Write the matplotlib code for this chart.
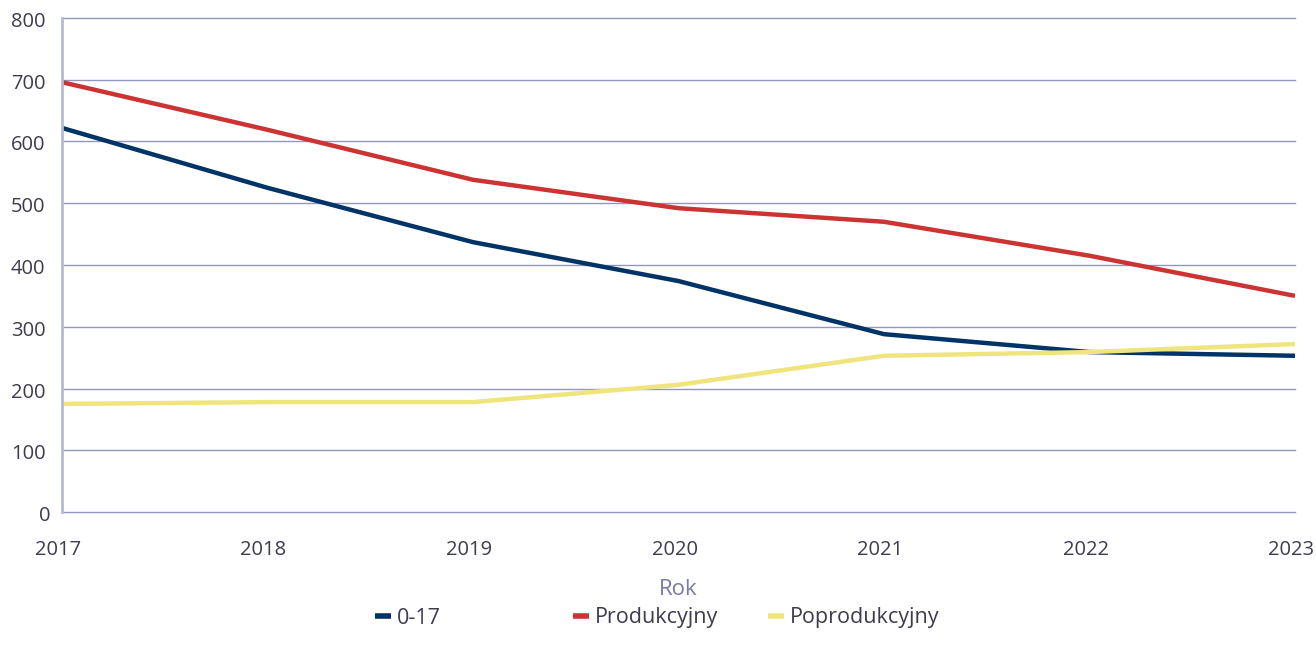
import matplotlib
matplotlib.use("Agg")
import matplotlib.pyplot as plt
from matplotlib.transforms import ScaledTranslation

years = [2017, 2018, 2019, 2020, 2021, 2022, 2023]
s_0_17 = [622, 525, 437, 374, 288, 259, 253]
s_prod = [696, 619, 538, 492, 470, 415, 350]
s_poprod = [175, 178, 178, 206, 253, 259, 272]
series_names = ["0-17", "Produkcyjny", "Poprodukcyjny"]
colors = ["#003366", "#cc3333", "#efe57c"]
yticks = [0, 100, 200, 300, 400, 500, 600, 700, 800]

plt.rcParams['font.family'] = ['Open Sans', 'DejaVu Sans']

W, H = 1316, 658
fig = plt.figure(figsize=(W/100, H/100), dpi=100)
ax = fig.add_axes([62/W, 1 - 512/H, (1295-62)/W, (512-18)/H])

lines = []
for vals, name, c in zip([s_0_17, s_prod, s_poprod], series_names, colors):
    ln, = ax.plot(years, vals, color=c, lw=3.2, label=name, solid_capstyle='butt')
    lines.append(ln)

ax.set_xlim(years[0], years[-1])
ax.set_ylim(0, 800)
ax.set_yticks(yticks)
ax.set_xticks(years)
ax.grid(axis='y', color='#9396bd', lw=1)
for gl in ax.get_ygridlines():
    gl.set_clip_on(False)
ax.set_axisbelow(True)
for s in ['top', 'right', 'bottom']:
    ax.spines[s].set_visible(False)
ax.spines['left'].set_color('#b7bad3')
ax.spines['left'].set_linewidth(2)
ax.tick_params(axis='both', length=0, labelsize=14.5, labelcolor='#3c3c4e')
ax.tick_params(axis='y', pad=12)
ax.tick_params(axis='x', pad=20)

dpi_tr = fig.dpi_scale_trans
for i, lbl in enumerate(ax.get_yticklabels()):
    lbl.set_verticalalignment('center')
    dx = 5/100 if i == 0 else 0
    lbl.set_transform(lbl.get_transform() + ScaledTranslation(dx, -4/100, dpi_tr))
for lbl in ax.get_xticklabels():
    lbl.set_transform(lbl.get_transform() + ScaledTranslation(-4/100, 0, dpi_tr))

ax.set_xlabel("Rok", fontsize=16, color='#7a7aa2', labelpad=14)

handle_x = [375, 573, 768]
for ln, name, hx in zip(lines, series_names, handle_x):
    leg = fig.legend([ln], [name], loc='center left', bbox_to_anchor=(hx/W, 1 - 618/H),
                     frameon=False, fontsize=15.5, handlelength=0.75, handletextpad=0.25,
                     borderpad=0, borderaxespad=0, labelcolor='#3c3c4e')
    for h in leg.get_lines():
        h.set_linewidth(4)

fig.savefig("out.png", dpi=100)
